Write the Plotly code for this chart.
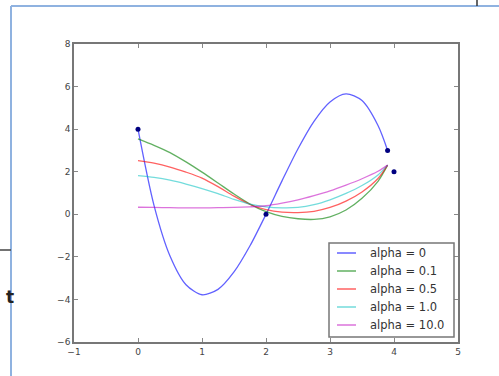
import plotly.graph_objects as go

# ---- data ----
pts_x = [0, 2, 3.9, 4]
pts_y = [4, 0, 3, 2]

x_fit = [0, 0.25, 0.5, 0.75, 1.0, 1.25, 1.5, 1.75, 2.0, 2.25, 2.5, 2.75, 3.0, 3.25, 3.5, 3.75, 3.9]
y_a0 = [4.0, 0.42, -1.96, -3.31, -3.78, -3.53, -2.71, -1.48, 0.0, 1.57, 3.08, 4.37, 5.28, 5.66, 5.34, 4.17, 3.0]
y_a01 = [3.54, 3.24, 2.90, 2.46, 1.98, 1.47, 0.95, 0.48, 0.12, -0.10, -0.21, -0.24, -0.12, 0.20, 0.75, 1.55, 2.31]
y_a05 = [2.52, 2.40, 2.22, 1.98, 1.70, 1.30, 0.85, 0.46, 0.22, 0.10, 0.08, 0.14, 0.32, 0.62, 1.05, 1.68, 2.31]
y_a1 = [1.82, 1.73, 1.60, 1.42, 1.21, 0.97, 0.70, 0.48, 0.35, 0.30, 0.32, 0.45, 0.68, 0.98, 1.35, 1.85, 2.31]
y_a10 = [0.33, 0.32, 0.31, 0.30, 0.30, 0.31, 0.32, 0.35, 0.40, 0.52, 0.68, 0.88, 1.10, 1.37, 1.67, 2.02, 2.31]

names = ["alpha = 0", "alpha = 0.1", "alpha = 0.5", "alpha = 1.0", "alpha = 10.0"]
series = [y_a0, y_a01, y_a05, y_a1, y_a10]
colors = ["rgba(0,0,255,0.62)", "rgba(0,128,0,0.62)", "rgba(255,0,0,0.62)",
          "rgba(0,191,191,0.55)", "rgba(191,0,191,0.55)"]

x_ticks = [-1, 0, 1, 2, 3, 4, 5]
y_ticks = [-6, -4, -2, 0, 2, 4, 6, 8]

W, H = 499, 376
L, R, T, B = 74, 458, 44, 342


def px(x):
    return (x - L) / (R - L)


def py(y):
    return (B - y) / (B - T)


fig = go.Figure()
for nm, ys, c in zip(names, series, colors):
    fig.add_trace(go.Scatter(x=x_fit, y=ys, mode="lines", name=nm, showlegend=False,
                             line=dict(color=c, width=1.3, shape="spline", smoothing=0.8)))
fig.add_trace(go.Scatter(x=pts_x, y=pts_y, mode="markers", showlegend=False,
                         marker=dict(color="#000080", size=5)))

axis_common = dict(showgrid=False, zeroline=False, showline=True, linecolor="#777",
                   linewidth=1.6, mirror="ticks", ticks="inside", ticklen=4,
                   tickcolor="#888", tickwidth=1,
                   tickfont=dict(family="DejaVu Sans", size=9, color="#444"))

fig.update_xaxes(range=[-1, 5], tickvals=x_ticks, **axis_common)
fig.update_yaxes(range=[-6, 8], tickvals=y_ticks, **axis_common)

shapes = [
    dict(type="line", xref="paper", yref="paper", x0=px(11), x1=px(11), y0=py(6), y1=py(380),
         line=dict(color="#8fb2e0", width=2)),
    dict(type="line", xref="paper", yref="paper", x0=px(11), x1=px(505), y0=py(6), y1=py(6),
         line=dict(color="#8fb2e0", width=2)),
    dict(type="line", xref="paper", yref="paper", x0=px(477), x1=px(477), y0=py(-2), y1=py(6),
         line=dict(color="#333", width=1.5)),
    dict(type="line", xref="paper", yref="paper", x0=px(-2), x1=px(11), y0=py(250), y1=py(250),
         line=dict(color="#444", width=1.5)),
    # legend box
    dict(type="rect", xref="paper", yref="paper", x0=px(329), x1=px(454), y0=py(337), y1=py(243),
         line=dict(color="#777", width=1.5), fillcolor="white", layer="above"),
]
annotations = [dict(text="<b>t</b>", xref="paper", yref="paper", x=px(4), y=py(309),
                    showarrow=False, font=dict(family="DejaVu Sans", size=17, color="#222"))]

row_y = [253, 271, 289, 307, 325]
for nm, c, ry in zip(names, colors, row_y):
    shapes.append(dict(type="line", xref="paper", yref="paper", x0=px(337), x1=px(356),
                       y0=py(ry), y1=py(ry), line=dict(color=c, width=1.5), layer="above"))
    annotations.append(dict(text=nm, xref="paper", yref="paper", x=px(368), y=py(ry),
                            xanchor="left", yanchor="middle", showarrow=False,
                            font=dict(family="DejaVu Sans", size=11.5, color="#333")))

fig.update_layout(
    width=W, height=H,
    margin=dict(l=L, r=W - R, t=T, b=H - B),
    paper_bgcolor="white", plot_bgcolor="white",
    shapes=shapes,
    annotations=annotations,
    showlegend=False,
    font=dict(family="DejaVu Sans"),
)

fig.write_html("out.html")
